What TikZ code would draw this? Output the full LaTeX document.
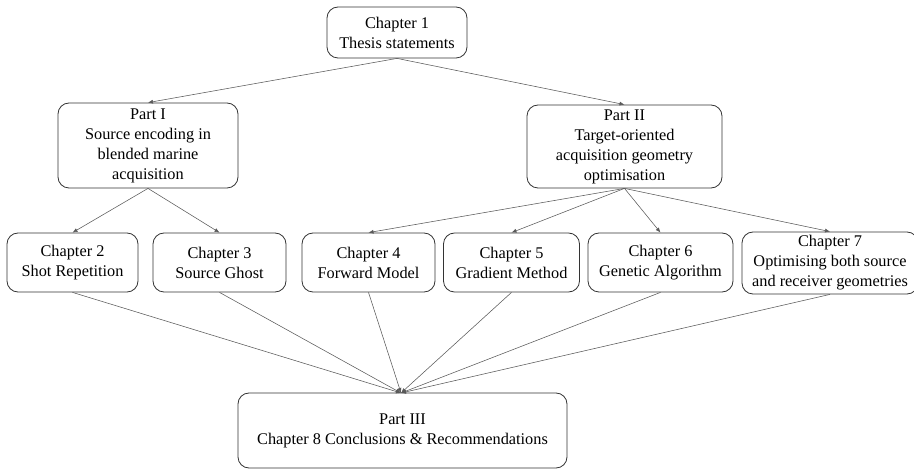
\documentclass[tikz,border=0pt]{standalone}
\usepackage{fontspec}
\setmainfont{Liberation Serif}
\usetikzlibrary{arrows.meta}
\begin{document}
\begin{tikzpicture}[x=1pt,y=-1pt,
  box/.style={draw=black!80, line width=0.8pt, rounded corners=11pt, align=center,
    inner sep=2pt, font=\fontsize{16.3}{20}\selectfont},
  conn/.style={draw=black!65, line width=0.55pt, -{Latex[length=5pt,width=4pt]}}]
\clip (0,0) rectangle (914,470);
\node[box, minimum width=140pt, minimum height=51pt] (ch1) at (397,32.5) {Chapter 1\\Thesis statements};
\node[box, minimum width=180pt, minimum height=85pt] (p1) at (148,145.5) {Part I\\Source encoding in\\blended marine\\acquisition};
\node[box, minimum width=195pt, minimum height=83pt] (p2) at (624.5,146.5) {Part II\\Target-oriented\\acquisition geometry\\optimisation};
\node[box, minimum width=131pt, minimum height=59pt] (c2) at (72.5,262.5) {Chapter 2\\Shot Repetition};
\node[box, minimum width=133pt, minimum height=59pt] (c3) at (219.5,262.5) {Chapter 3\\Source Ghost};
\node[box, minimum width=133pt, minimum height=59pt] (c4) at (368.5,262.5) {Chapter 4\\Forward Model};
\node[box, minimum width=136pt, minimum height=59pt] (c5) at (511.5,262.5) {Chapter 5\\Gradient Method};
\node[box, minimum width=145pt, minimum height=59pt] (c6) at (660.5,262.5) {Chapter 6\\Genetic Algorithm};
\node[box, minimum width=176pt, minimum height=62pt, inner ysep=0pt] (c7) at (830,263) {Chapter 7\\Optimising both source\\and receiver geometries};
\node[box, minimum width=329pt, minimum height=75pt] (p3) at (402.5,430.5) {Part III\\Chapter 8 Conclusions \& Recommendations};
\coordinate (conv) at (401,393);
\draw[conn] (ch1.south) -- (p1.north);
\draw[conn] (ch1.south) -- (p2.north);
\draw[conn] (p1.south) -- (c2.north);
\draw[conn] (p1.south) -- (c3.north);
\draw[conn] (p2.south) -- (c4.north);
\draw[conn] (p2.south) -- (c5.north);
\draw[conn] (p2.south) -- (c6.north);
\draw[conn] (p2.south) -- (c7.north);
\foreach \c in {c2,c3,c4,c5,c6,c7}{\draw[conn] (\c.south) -- (conv);}
\end{tikzpicture}
\end{document}
